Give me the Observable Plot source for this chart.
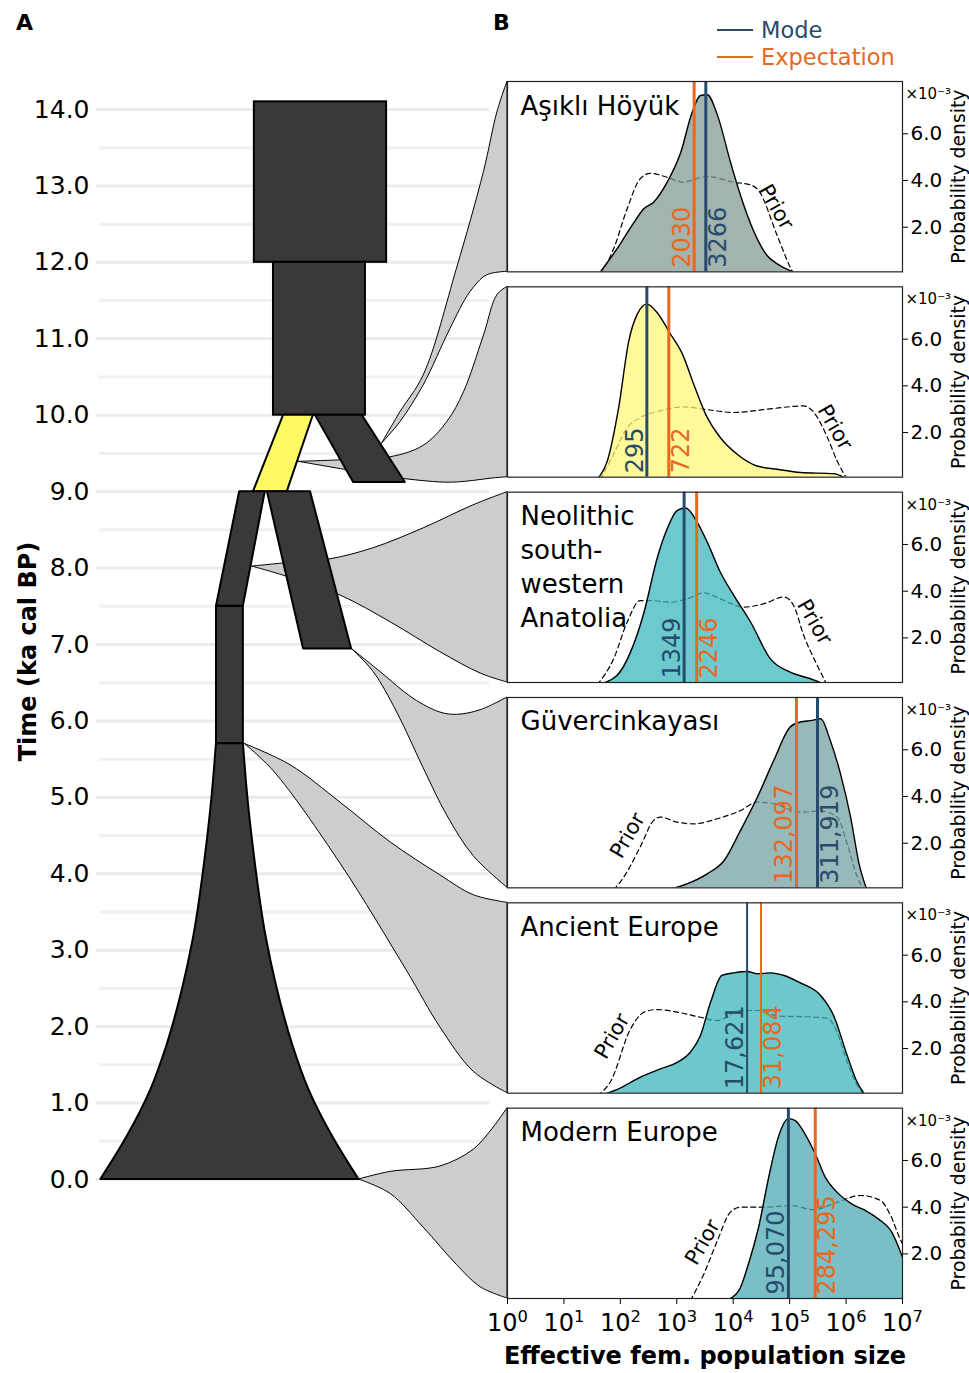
<!DOCTYPE html>
<html>
<head>
<meta charset="utf-8">
<script src="https://cdn.jsdelivr.net/npm/d3@7"></script>
<script src="https://cdn.jsdelivr.net/npm/@observablehq/plot@0.6"></script>
<style>
  body { margin: 0; background: #fff; font-family: "DejaVu Sans", sans-serif; }
  #wrap { position: relative; width: 969px; height: 1373px; overflow: hidden; background: #fff; }
  #wrap svg { position: absolute; top: 0; overflow: visible; }
  .panel-letter { position: absolute; top: 10px; font-weight: bold; font-size: 22px; }
  .legend { position: absolute; left: 717px; top: 16px; font-size: 22.5px; }
  .legend .row { display: flex; align-items: center; height: 27.5px; }
  .legend .sw { width: 36px; height: 2px; margin-right: 8px; }
</style>
</head>
<body>
<div id="wrap">
  <div class="panel-letter" style="left:16px">A</div>
  <div class="panel-letter" style="left:493px">B</div>
  <div class="legend">
    <div class="row" style="color:#274b6d"><div class="sw" style="background:#274b6d"></div>Mode</div>
    <div class="row" style="color:#e8681e"><div class="sw" style="background:#e8681e"></div>Expectation</div>
  </div>
</div>
<script>
// ---------------- DATA ----------------
// Panel B: populations (top to bottom)
const panelIds = ["p1", "p2", "p3", "p4", "p5", "p6"];
const panelNames = ["Aşıklı Höyük", "", "Neolithic\nsouth-\nwestern\nAnatolia", "Güvercinkayası", "Ancient Europe", "Modern Europe"];
const modes = [3266, 295, 1349, 311919, 17621, 95070];
const expectations = [2030, 722, 2246, 132097, 31084, 284295];
const xTicks = [1, 10, 100, 1e3, 1e4, 1e5, 1e6, 1e7];
const densityTicks = [2, 4, 6];

// posterior densities: [log10(Ne), density ×10^-3]
const post1 = [[1.62,0],[1.94,1.07],[2.24,2.2],[2.42,2.8],[2.59,3.07],[2.83,3.93],[3.07,5.2],[3.27,6.9],[3.42,7.64],[3.54,7.67],[3.72,6.8],[3.95,4.8],[4.13,3.36],[4.37,1.79],[4.60,0.79],[4.78,0.43],[5.01,0.14],[5.19,0]];
const post2 = [[1.59,0],[1.77,0.79],[1.97,3.07],[2.15,5.93],[2.30,7.07],[2.47,7.5],[2.65,7.14],[2.89,6.21],[3.10,5.36],[3.30,4.07],[3.51,2.79],[3.77,1.79],[4.07,1.07],[4.42,0.57],[4.78,0.43],[5.19,0.29],[5.78,0.24],[6.02,0]];
const post3 = [[1.59,0],[1.94,0.39],[2.18,1.39],[2.42,3.1],[2.65,5.39],[2.83,6.67],[3.01,7.46],[3.16,7.56],[3.36,6.96],[3.54,6.1],[3.77,4.82],[4.01,3.82],[4.31,2.67],[4.66,1.1],[5.01,0.53],[5.37,0.25],[5.64,0]];
const post4 = [[2.83,0],[3.18,0.26],[3.54,0.69],[3.84,1.26],[4.13,2.55],[4.43,3.98],[4.72,5.55],[5.01,6.98],[5.19,7.19],[5.40,7.26],[5.55,7.33],[5.72,6.4],[5.90,4.98],[6.08,3.12],[6.23,1.12],[6.37,0]];
const post5 = [[1.65,0],[1.94,0.24],[2.35,0.77],[2.71,1.13],[3.01,1.41],[3.24,1.84],[3.42,2.56],[3.60,3.99],[3.80,5.13],[4.01,5.24],[4.25,5.3],[4.43,5.2],[4.66,5.24],[4.90,5.13],[5.19,4.81],[5.55,4.27],[5.78,3.41],[6.02,1.7],[6.17,0.7],[6.34,0]];
const post6 = [[3.86,0],[4.10,0.43],[4.27,1.57],[4.45,3.14],[4.63,5.29],[4.80,7.0],[4.98,7.79],[5.10,7.71],[5.27,7.14],[5.48,6.14],[5.63,5.29],[5.80,4.74],[6.10,4.14],[6.34,3.86],[6.57,3.5],[6.81,2.93],[7.0,1.86]];

// prior densities: [log10(Ne), density ×10^-3]
const prior1 = [[1.65,0],[1.88,1.07],[2.12,2.79],[2.35,4.07],[2.53,4.31],[2.83,4.14],[3.10,3.93],[3.54,4.17],[4.01,3.93],[4.31,3.81],[4.45,3.57],[4.78,1.64],[5.01,0.29],[5.07,0]];
const prior2 = [[1.65,0],[1.88,1.07],[2.12,2.2],[2.35,2.64],[2.71,2.93],[3.12,3.1],[3.48,3.0],[4.01,2.86],[4.60,3.0],[5.25,3.14],[5.43,2.86],[5.67,1.79],[5.84,0.79],[6.02,0]];
const prior3 = [[1.59,0],[1.88,1.1],[2.12,2.67],[2.35,3.6],[2.53,3.6],[2.89,3.53],[3.18,3.67],[3.48,3.93],[3.77,3.67],[4.19,3.32],[4.54,3.46],[4.90,3.75],[5.07,3.39],[5.25,2.1],[5.49,0.82],[5.66,0]];
const prior4 = [[1.88,0],[2.06,0.55],[2.35,1.83],[2.59,2.98],[2.71,3.12],[3.01,2.9],[3.30,2.83],[3.72,3.05],[4.13,3.4],[4.43,3.76],[4.72,3.69],[5.19,3.33],[5.55,3.38],[5.84,3.12],[6.02,1.98],[6.20,0.55],[6.32,0]];
const prior5 = [[1.59,0],[1.82,0.56],[2.18,2.84],[2.42,3.56],[2.65,3.67],[3.01,3.56],[3.42,3.34],[3.72,3.2],[4.13,3.63],[4.49,3.63],[4.78,3.39],[5.19,3.37],[5.67,3.3],[5.84,2.7],[6.02,1.41],[6.17,0.56],[6.32,0]];
const prior6 = [[3.24,0],[3.48,1.14],[3.72,2.57],[3.95,3.79],[4.13,4.0],[4.55,4.0],[5.02,4.07],[5.43,3.89],[5.84,4.21],[6.26,4.5],[6.61,4.29],[6.79,3.64],[6.97,2.57],[7.0,2.43]];

// "Prior" label anchors: [log10(Ne), density]
const priorLabelPos = [[4.76,2.87],[5.80,2.23],[5.44,2.68],[2.13,2.33],[1.855,2.53],[3.46,2.50]];

// Panel A: schematic demography, x in relative width units, t in ka cal BP
const timeTicks = [0,1,2,3,4,5,6,7,8,9,10,11,12,13,14];
const halfTimeTicks = [0.5,1.5,2.5,3.5,4.5,5.5,6.5,7.5,8.5,9.5,10.5,11.5,12.5,13.5];
const blocks = [ // rectangles: [x1, x2, tStart, tEnd]
  [37.8, 70.3, 12.0, 14.1],
  [42.5, 65.1, 10.0, 12.0],
  [28.5, 35.1, 5.70, 7.5]
];
const branches = [ // trapezoids: [tTop, leftTop, rightTop, tBottom, leftBottom, rightBottom]
  [10.0, 45.0, 52.3, 9.0, 37.6, 45.9],   // yellow
  [10.0, 52.8, 64.3, 9.12, 62.2, 74.9],
  [9.0, 34.2, 40.5, 7.5, 28.5, 35.1],
  [9.0, 41.0, 51.6, 6.94, 49.9, 61.7]
];
const bellCenter = 31.8;
const bellTimes = [0, 0.555, 1.16, 1.76, 2.54, 3.14, 4.34, 5.0, 5.70];
const bellHalfWidths = [31.7, 25.3, 19.53, 15.43, 11.43, 9.02, 5.77, 4.4, 3.32];

// connectors (apex + intermediate points [x, t]); ends at the panels
const connApex = [[69.2,9.63],[48.7,9.39],[37.3,8.02],[61.8,6.94],[35.4,5.70],[63.5,0]];
const connTop = [
  [[73.7,10.04],[79.4,10.52],[87.6,11.92],[94.2,13.18],[97.5,13.96]],
  [[59.0,9.41],[71.3,9.45],[79.4,9.60],[85.2,9.91],[89.3,10.30],[94.2,11.04],[97.5,11.57]],
  [[45.0,8.06],[56.0,8.11],[67.1,8.26],[79.4,8.52],[91.6,8.82]],
  [[68.8,6.64],[76.9,6.29],[83.5,6.11],[87.6,6.08],[93.4,6.14]],
  [[46.7,5.42],[59.0,4.93],[71.3,4.41],[83.5,3.98],[91.7,3.72]],
  [[71.3,0.10],[83.5,0.17],[91.7,0.39],[96.6,0.68]]
];
const connBottom = [
  [[73.7,9.91],[79.4,10.39],[86.0,11.13],[90.9,11.61],[95.0,11.83]],
  [[60.6,9.28],[68.0,9.21],[75.4,9.16],[83.5,9.12],[87.6,9.12],[91.6,9.14],[96.0,9.17]],
  [[45.0,7.90],[59.0,7.64],[71.3,7.29],[83.5,6.90],[93.4,6.62]],
  [[67.1,6.64],[72.9,6.11],[79.4,5.38],[85.2,4.76],[91.7,4.23]],
  [[42.6,5.34],[59.0,4.13],[75.4,2.72],[83.5,1.99],[91.7,1.41]],
  [[71.3,-0.19],[79.4,-0.63],[87.6,-1.12],[93.4,-1.41]]
];

// ---------------- STYLE / LAYOUT ----------------
const FONT = "DejaVu Sans";
const MODE = "#274b6d", EXP = "#e8681e";
const DARK = "#3a3938", YELLOW = "#fff964", CONN = "#cdcdcd";
const fillColors = {p1: "#849a92", p2: "#fff778", p3: "#3bb8bf", p4: "#76a1a1", p5: "#3cb6bb", p6: "#4caab1"};
const B_TOP = 81, B_BOTTOM = 1298, B_PAD = 0.073;
const A_Y0 = 1179, A_Y14 = 109;

const posts = [post1, post2, post3, post4, post5, post6];
const priors = [prior1, prior2, prior3, prior4, prior5, prior6];

// ---------------- PANEL A ----------------
const band = d3.scaleBand().domain(panelIds).range([B_TOP, B_BOTTOM]).paddingInner(B_PAD).paddingOuter(0);
const yA = d3.scaleLinear().domain([0, 14]).range([A_Y0, A_Y14]);

const connRows = [];
connApex.forEach((apex, c) => {
  const top = [apex, ...connTop[c], [100, yA.invert(band(panelIds[c]))]];
  const bot = [apex, ...connBottom[c], [100, yA.invert(band(panelIds[c]) + band.bandwidth())]];
  top.forEach((p, i) => connRows.push({c, xt: p[0], tt: p[1], xb: bot[i][0], tb: bot[i][1]}));
});

const branchRows = branches.flatMap((b, i) => [
  {id: i, t: b[0], l: b[1], r: b[2]},
  {id: i, t: b[3], l: b[4], r: b[5]}
]);
const bellRows = bellTimes.map((t, i) => ({t, l: bellCenter - bellHalfWidths[i], r: bellCenter + bellHalfWidths[i]}));
const blockRows = blocks.map(b => ({x1: b[0], x2: b[1], y1: b[2], y2: b[3]}));

const plotA = Plot.plot({
  width: 510, height: 1373,
  marginLeft: 100, marginRight: 3, marginTop: 123, marginBottom: 194,
  x: {domain: [0, 100], range: [100, 507], axis: null},
  y: {domain: [0, 14], range: [A_Y0, A_Y14]},
  style: {background: "none", fontFamily: FONT, overflow: "visible"},
  marks: [
    Plot.ruleY(halfTimeTicks, {x1: -0.25, x2: 95.6, stroke: "#f0f0f0", strokeWidth: 3}),
    Plot.ruleY(timeTicks, {x1: -1, x2: 95.6, stroke: "#ebebeb", strokeWidth: 3}),
    Plot.area(connRows, {x1: "xb", y1: "tb", x2: "xt", y2: "tt", z: "c", fill: CONN, stroke: "black", strokeWidth: 1, curve: "catmull-rom"}),
    Plot.rect(blockRows, {x1: "x1", x2: "x2", y1: "y1", y2: "y2", fill: DARK, stroke: "black", strokeWidth: 2}),
    Plot.areaX(branchRows, {y: "t", x1: "l", x2: "r", z: "id", fill: d => d.id === 0 ? YELLOW : DARK, stroke: "black", strokeWidth: 2}),
    Plot.areaX(bellRows, {y: "t", x1: "l", x2: "r", fill: DARK, stroke: "black", strokeWidth: 2, curve: "monotone-y"}),
    Plot.axisY({ticks: timeTicks, tickFormat: d3.format(".1f"), tickSize: 0, tickPadding: 11, fontSize: 25, label: null}),
    Plot.text(["Time (ka cal BP)"], {frameAnchor: "left", textAnchor: "middle", rotate: -90, dx: -72, fontWeight: "bold", fontSize: 24})
  ]
});
plotA.style.left = "0px";
document.getElementById("wrap").appendChild(plotA);

// ---------------- PANEL B ----------------
const postRows = panelIds.flatMap((p, i) => posts[i].map(([L, d]) => ({panel: p, n: 10 ** L, d, fill: fillColors[p]})));
const priorRows = panelIds.flatMap((p, i) => priors[i].map(([L, d]) => ({panel: p, n: 10 ** L, d})));
const panelRows = panelIds.map((p, i) => ({panel: p, name: panelNames[i]}));
const fmtVal = v => v >= 10000 ? d3.format(",")(v) : String(v);
const vlines = panelIds.flatMap((p, i) => {
  const lo = Math.min(modes[i], expectations[i]);
  return [
    {panel: p, value: modes[i], color: MODE, side: modes[i] === lo ? "left" : "right"},
    {panel: p, value: expectations[i], color: EXP, side: expectations[i] === lo ? "left" : "right"}
  ];
}).map(d => ({...d, label: fmtVal(d.value)}));
const priorLabels = panelIds.map((p, i) => ({panel: p, n: 10 ** priorLabelPos[i][0], d: priorLabelPos[i][1], rot: i < 3 ? 60 : -60}));

const plotB = Plot.plot({
  width: 469, height: 1373,
  marginLeft: 7, marginRight: 67, marginTop: B_TOP, marginBottom: 1373 - B_BOTTOM,
  x: {type: "log", domain: [1, 1e7]},
  y: {domain: [0.09, 8.24]},
  fy: {domain: panelIds, paddingInner: B_PAD, paddingOuter: 0, round: false, axis: null},
  color: {type: "identity"},
  style: {background: "none", fontFamily: FONT, overflow: "visible"},
  marks: [
    Plot.line(priorRows, {x: "n", y: "d", fy: "panel", z: "panel", curve: "monotone-x", stroke: "black", strokeWidth: 1.2, strokeDasharray: "5,3.5", clip: true}),
    Plot.areaY(postRows, {x: "n", y: "d", fy: "panel", z: "panel", fill: "fill", fillOpacity: 0.75, curve: "monotone-x", clip: true}),
    Plot.line(postRows, {x: "n", y: "d", fy: "panel", z: "panel", curve: "monotone-x", stroke: "black", strokeWidth: 1.4, clip: true}),
    Plot.ruleX(vlines, {x: "value", fy: "panel", stroke: "color", strokeWidth: d => d.panel === "p5" ? 2 : 3}),
    Plot.text(vlines.filter(d => d.side === "left"), {x: "value", fy: "panel", text: "label", fill: "color", frameAnchor: "bottom", rotate: -90, textAnchor: "start", lineAnchor: "bottom", dx: -4, dy: -4, fontSize: 24}),
    Plot.text(vlines.filter(d => d.side === "right"), {x: "value", fy: "panel", text: "label", fill: "color", frameAnchor: "bottom", rotate: -90, textAnchor: "start", lineAnchor: "top", dx: 3, dy: -4, fontSize: 24}),
    Plot.text(panelRows, {fy: "panel", text: "name", frameAnchor: "top-left", textAnchor: "start", lineAnchor: "top", dx: 13, dy: 9, fontSize: 26, lineHeight: 1.3}),
    Plot.text(priorLabels, {x: "n", y: "d", fy: "panel", text: () => "Prior", rotate: "rot", fontSize: 21}),
    Plot.frame({stroke: "#222", strokeWidth: 1.2}),
    Plot.axisY({anchor: "right", ticks: densityTicks, tickFormat: d3.format(".1f"), tickSize: 5, tickPadding: 3, fontSize: 20, label: null}),
    Plot.axisX({anchor: "bottom", ticks: xTicks, tickFormat: d => "10^" + Math.round(Math.log10(d)), tickSize: 6, tickPadding: 9, fontSize: 24, label: null}),
    Plot.text(panelRows, {fy: "panel", text: () => "×10⁻³", frameAnchor: "top-right", textAnchor: "start", dx: 3, dy: 7, fontSize: 15}),
    Plot.text(panelRows, {fy: "panel", text: () => "Probability density", frameAnchor: "right", textAnchor: "middle", rotate: -90, dx: 56, fontSize: 18.8}),
    Plot.text(panelRows.slice(-1), {fy: "panel", text: () => "Effective fem. population size", frameAnchor: "bottom", dy: 65, fontWeight: "bold", fontSize: 24})
  ]
});
// render x tick labels as 10 with a superscript exponent
plotB.querySelectorAll("text").forEach(t => {
  const m = /^10\^(\d)$/.exec(t.textContent);
  if (!m) return;
  t.textContent = "10";
  const s = document.createElementNS("http://www.w3.org/2000/svg", "tspan");
  s.setAttribute("dy", "-0.5em");
  s.setAttribute("font-size", "0.68em");
  s.textContent = m[1];
  t.appendChild(s);
});
plotB.style.left = "500px";
document.getElementById("wrap").appendChild(plotB);
</script>
</body>
</html>
